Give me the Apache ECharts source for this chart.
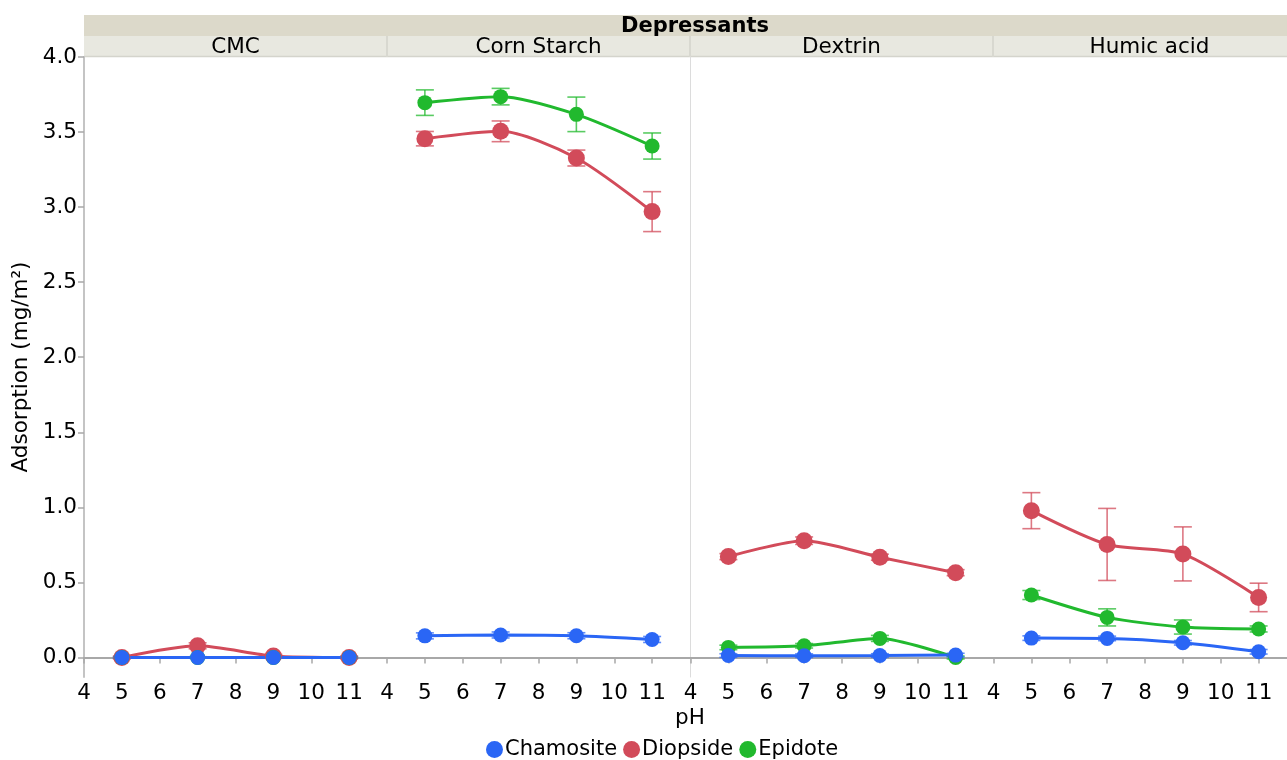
<!DOCTYPE html>
<html>
<head>
<meta charset="utf-8">
<script src="https://cdn.jsdelivr.net/npm/echarts@6/dist/echarts.min.js"></script>
<style>
html,body{margin:0;padding:0;background:#fff;}
#chart{width:1287px;height:760px;}
</style>
</head>
<body>
<div id="chart"></div>
<script>
// ---- data ----
const panels = ['CMC', 'Corn Starch', 'Dextrin', 'Humic acid'];
const pH = [5, 7, 9, 11];
const minerals = ['Chamosite', 'Diopside', 'Epidote'];
const yTicks = [0, 0.5, 1, 1.5, 2, 2.5, 3, 3.5, 4];
const xTicks = [4, 5, 6, 7, 8, 9, 10, 11];

// mean adsorption per panel (rows) at pH 5,7,9,11
const chamositeMean = [[0.0, 0.0, 0.0, 0.0], [0.144, 0.150, 0.145, 0.120], [0.013, 0.012, 0.013, 0.016], [0.129, 0.127, 0.098, 0.038]];
const chamositeErr  = [[0.005, 0.005, 0.005, 0.005], [0.02, 0.02, 0.02, 0.02], [0.012, 0.012, 0.012, 0.012], [0.015, 0.015, 0.015, 0.015]];
const diopsideMean  = [[0.0, 0.078, 0.01, 0.0], [3.456, 3.505, 3.327, 2.97], [0.672, 0.778, 0.668, 0.565], [0.978, 0.753, 0.69, 0.40]];
const diopsideErr   = [[0.01, 0.02, 0.01, 0.01], [0.048, 0.069, 0.053, 0.133], [0.02, 0.025, 0.02, 0.02], [0.12, 0.24, 0.18, 0.095]];
const epidoteMean   = [[0.0, 0.0, 0.0, 0.0], [3.696, 3.736, 3.618, 3.407], [0.067, 0.078, 0.127, 0.0], [0.416, 0.267, 0.203, 0.19]];
const epidoteErr    = [[0.005, 0.005, 0.005, 0.005], [0.085, 0.055, 0.115, 0.087], [0.015, 0.015, 0.02, 0.01], [0.03, 0.057, 0.047, 0.02]];

const means = {Chamosite: chamositeMean, Diopside: diopsideMean, Epidote: epidoteMean};
const errs = {Chamosite: chamositeErr, Diopside: diopsideErr, Epidote: epidoteErr};
const colors = {Chamosite: '#2a66f5', Diopside: '#d24b5a', Epidote: '#21b92e'};
const errColors = {Chamosite: 'rgba(42,102,245,0.75)', Diopside: 'rgba(210,75,90,0.75)', Epidote: 'rgba(33,185,46,0.75)'};
const symSize = {Chamosite: 15, Diopside: 17, Epidote: 15};

// ---- layout ----
const FONT = 'DejaVu Sans';
const FS = 21.5;
const plotLeft = 84, plotTop = 57, plotBottom = 677, panelW = 303, fullRight = 1287;
const grids = panels.map((p, i) => {
  const left = plotLeft + i * panelW + (i >= 2 ? 0.5 : 0);
  const right = Math.min(plotLeft + (i + 1) * panelW, fullRight);
  return {left: left, top: plotTop, width: right - left, height: plotBottom - plotTop, containLabel: false};
});
const unitPx = panelW / 8;

const xAxes = grids.map((g, i) => ({
  gridIndex: i, type: 'value', min: 4, max: 4 + g.width / unitPx, interval: 1,
  axisLine: {show: true, lineStyle: {color: '#a8a8a8', width: 2}},
  axisTick: {show: true, length: 6, lineStyle: {color: '#a8a8a8', width: 1.5}, customValues: xTicks},
  axisLabel: {color: '#000', fontFamily: FONT, fontSize: FS, margin: 5, customValues: xTicks},
  splitLine: {show: false},
}));
const yAxes = grids.map((g, i) => ({
  gridIndex: i, type: 'value', min: -0.13, max: 4.0,
  axisLine: {show: i === 0 || i === 2, lineStyle: {color: i === 0 ? '#c4c4c4' : '#dcdcdc', width: i === 0 ? 2 : 1}},
  axisTick: {show: i === 0, length: 6, lineStyle: {color: '#a8a8a8', width: 1.5}, customValues: yTicks},
  axisLabel: {show: i === 0, color: '#000', fontFamily: FONT, fontSize: FS, margin: 7,
    customValues: yTicks, formatter: v => v.toFixed(1)},
  splitLine: {show: false},
  name: i === 0 ? 'Adsorption (mg/m²)' : '',
  nameLocation: 'middle', nameGap: 52,
  nameTextStyle: {color: '#000', fontFamily: FONT, fontSize: FS},
}));

function errRender(color) {
  return function (params, api) {
    const x = api.value(0), m = api.value(1), e = api.value(2);
    const hi = api.coord([x, m + e]);
    const lo = api.coord([x, m - e]);
    const cap = 9;
    const style = {stroke: color, lineWidth: 1.6};
    return {type: 'group', children: [
      {type: 'line', shape: {x1: hi[0], y1: hi[1], x2: lo[0], y2: lo[1]}, style: style},
      {type: 'line', shape: {x1: hi[0] - cap, y1: hi[1], x2: hi[0] + cap, y2: hi[1]}, style: style},
      {type: 'line', shape: {x1: lo[0] - cap, y1: lo[1], x2: lo[0] + cap, y2: lo[1]}, style: style},
    ]};
  };
}

const series = [];
const order = ['Diopside', 'Epidote', 'Chamosite'];
panels.forEach((p, i) => {
  order.forEach(m => {
    series.push({
      name: m, type: 'custom', xAxisIndex: i, yAxisIndex: i,
      renderItem: errRender(errColors[m]), silent: true, z: 1,
      data: pH.map((x, k) => [x, means[m][i][k], errs[m][i][k]]),
    });
  });
});
panels.forEach((p, i) => {
  order.forEach(m => {
    series.push({
      name: m, type: 'line', xAxisIndex: i, yAxisIndex: i, smooth: 0.25,
      symbol: 'circle', symbolSize: symSize[m], showSymbol: true, z: 2,
      itemStyle: {color: colors[m]},
      lineStyle: {color: colors[m], width: 3},
      emphasis: {disabled: true},
      data: pH.map((x, k) => [x, means[m][i][k]]),
    });
  });
});

// strips (decoration)
const graphics = [
  {type: 'rect', shape: {x: plotLeft, y: 15, width: fullRight - plotLeft, height: 21}, style: {fill: '#dcd9ca'}},
  {type: 'rect', shape: {x: plotLeft, y: 36, width: fullRight - plotLeft, height: 21}, style: {fill: '#e8e8e0'}},
  {type: 'line', shape: {x1: plotLeft, y1: 56.5, x2: fullRight, y2: 56.5}, style: {stroke: '#d4d4cc', lineWidth: 1.5}},
  {type: 'text', x: plotLeft + 2 * panelW + 5, y: 27, style: {text: 'Depressants', fill: '#000', font: 'bold 21px "DejaVu Sans"', textAlign: 'center', textVerticalAlign: 'middle'}},
];
panels.forEach((p, i) => {
  graphics.push({type: 'text', x: plotLeft + i * panelW + panelW / 2 + (i === 3 ? 5 : 0), y: 47.5, style: {text: p, fill: '#000', font: FS + 'px "DejaVu Sans"', textAlign: 'center', textVerticalAlign: 'middle'}});
  if (i > 0) graphics.push({type: 'line', shape: {x1: plotLeft + i * panelW, y1: 36, x2: plotLeft + i * panelW, y2: 57}, style: {stroke: '#d8d8d0', lineWidth: 2}});
});
graphics.push({type: 'text', x: 690, y: 718, style: {text: 'pH', fill: '#000', font: FS + 'px "DejaVu Sans"', textAlign: 'center', textVerticalAlign: 'middle'}});

const chart = echarts.init(document.getElementById('chart'), null, {renderer: 'canvas'});
chart.setOption({
  animation: false,
  backgroundColor: '#fff',
  grid: grids,
  xAxis: xAxes,
  yAxis: yAxes,
  legend: {
    data: minerals.map(m => ({name: m, icon: 'circle', itemStyle: {color: colors[m]}})),
    left: 481, top: 734, itemWidth: 17, itemHeight: 17, itemGap: 6,
    textStyle: {color: '#000', fontFamily: FONT, fontSize: 21, padding: [0, 0, 0, -3]},
  },
  graphic: graphics,
  series: series,
});
</script>
</body>
</html>
